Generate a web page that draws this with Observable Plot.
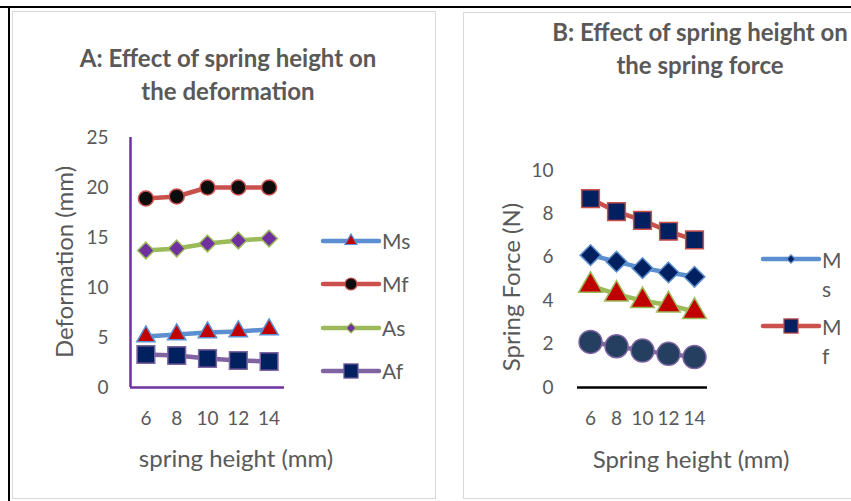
<!DOCTYPE html>
<html><head><meta charset="utf-8">
<script src="https://cdn.jsdelivr.net/npm/d3@7"></script>
<script src="https://cdn.jsdelivr.net/npm/@observablehq/plot@0.6"></script>
<style>
body{margin:0;background:#fff;}
#page{position:relative;width:851px;height:501px;overflow:hidden;font-family:Lato,"Open Sans",sans-serif;background:#fff;}
.frame{position:absolute;background:#000;}
.panel{position:absolute;border:1px solid #d9d9d9;box-sizing:border-box;}
.title{position:absolute;text-align:center;font-weight:bold;color:#595959;font-size:24px;line-height:33px;white-space:nowrap;}
.axt{position:absolute;color:#595959;font-size:24px;white-space:nowrap;}
.chart svg{position:absolute;left:0;top:0;}
.leg{position:absolute;color:#595959;font-size:21px;}
</style></head><body>
<div id="page">
  <div class="frame" style="left:0;top:6px;width:851px;height:2px"></div>
  <div class="frame" style="left:8px;top:6px;width:2px;height:501px"></div>
  <div class="panel" style="left:12px;top:11px;width:424px;height:488px"></div>
  <div class="panel" style="left:463px;top:12px;width:400px;height:487px"></div>
  <div class="title" style="left:28px;width:400px;top:41px">A: Effect of spring height on<br>the deformation</div>
  <div class="title" style="left:500px;width:400px;top:15px">B: Effect of spring height on<br>the spring force</div>
  <div class="axt" style="left:63px;top:262px;transform:translate(-50%,-50%) rotate(-90deg)">Deformation (mm)</div>
  <div class="axt" style="left:510px;top:287px;transform:translate(-50%,-50%) rotate(-90deg)">Spring Force (N)</div>
  <div class="axt" style="left:236px;top:457px;transform:translate(-50%,-50%)">spring height (mm)</div>
  <div class="axt" style="left:691px;top:458px;transform:translate(-50%,-50%)">Spring height (mm)</div>
  <div class="chart" id="chartA"></div>
  <div class="chart" id="chartB"></div>
  <div id="legA"></div>
  <div id="legB"></div>
</div>
<script>
// ---- data ----
const heights = [6, 8, 10, 12, 14];
const seriesNames = ["Ms", "Mf", "As", "Af"];
// A: deformation (mm)
const defMs = [5.1, 5.3, 5.5, 5.6, 5.8];
const defMf = [18.9, 19.1, 20.0, 20.0, 20.0];
const defAs = [13.7, 13.9, 14.4, 14.7, 14.9];
const defAf = [3.3, 3.2, 2.9, 2.7, 2.6];
// B: spring force (N)
const forceMs = [6.1, 5.8, 5.5, 5.3, 5.1];
const forceMf = [8.7, 8.1, 7.7, 7.2, 6.8];
const forceAs = [4.7, 4.3, 4.0, 3.8, 3.5];
const forceAf = [2.1, 1.9, 1.7, 1.55, 1.4];
const ticksA = [0, 5, 10, 15, 20, 25];
const ticksB = [0, 2, 4, 6, 8, 10];
const legendA = ["Ms", "Mf", "As", "Af"];
const legendB = ["Ms", "Mf"];

// ---- styles ----
const styleA = {
  Ms: {line: "#5b8fd0", fill: "#c00000", edge: "#5b8fd0", symbol: "triangle", r: 6.8, lr: 4.5},
  Mf: {line: "#c9504d", fill: "#0d0d0d", edge: "#c9504d", symbol: "circle", r: 7.5, lr: 6},
  As: {line: "#9bbb59", fill: "#7030a0", edge: "#9bbb59", symbol: "diamond2", r: 7.5, lr: 4.5},
  Af: {line: "#8064a2", fill: "#002060", edge: "#8064a2", symbol: "square", r: 10, lr: 8}
};
const styleB = {
  Ms: {line: "#5b8fd0", fill: "#002060", edge: "#5b8fd0", symbol: "diamond2", r: 9.3, lr: 3.8},
  Mf: {line: "#c9504d", fill: "#002060", edge: "#c9504d", symbol: "square", r: 10, lr: 8},
  As: {line: "#9bbb59", fill: "#c00000", edge: "#9bbb59", symbol: "triangle", r: 8.8, lr: 6},
  Af: {line: "#8064a2", fill: "#243f60", edge: "#8064a2", symbol: "circle", r: 11.5, lr: 6}
};

function rows(arrs) {
  const out = [];
  seriesNames.forEach((s, i) => heights.forEach((h, j) => out.push({series: s, h, v: arrs[i][j]})));
  return out;
}
const dataA = rows([defMs, defMf, defAs, defAf]);
const dataB = rows([forceMs, forceMf, forceAs, forceAf]);

function makeChart(data, styles, opt) {
  const marks = [];
  marks.push(...opt.axisMarks);
  for (const s of seriesNames) {
    const st = styles[s];
    const d = data.filter(r => r.series === s);
    marks.push(Plot.line(d, {x: "h", y: "v", stroke: st.line, strokeWidth: 4.5, strokeLinecap: "round", strokeLinejoin: "round"}));
  }
  for (const s of seriesNames) {
    const st = styles[s];
    const d = data.filter(r => r.series === s);
    marks.push(Plot.dot(d, {x: "h", y: "v", symbol: st.symbol, r: st.r, fill: st.fill, stroke: st.edge, strokeWidth: 1.5}));
  }
  return Plot.plot({
    width: 851, height: 501,
    marginLeft: opt.left, marginRight: 851 - opt.right,
    marginTop: opt.top, marginBottom: 501 - opt.bottom,
    style: {background: "transparent", color: "#595959", fontFamily: "Lato, sans-serif", fontSize: opt.fontSize + "px", overflow: "visible"},
    x: {type: "linear", domain: [5, 15], ticks: heights, tickSize: 0, tickPadding: opt.xPad, label: null, tickFormat: d => String(d)},
    y: {domain: opt.ydomain, ticks: opt.yticks, tickSize: 0, tickPadding: opt.yPad, label: null, tickFormat: d => String(d)},
    marks
  });
}

const A = makeChart(dataA, styleA, {
  left: 130, right: 284, top: 137, bottom: 387, ydomain: [0, 25], yticks: ticksA, xPad: 24, yPad: 22, fontSize: 19,
  axisMarks: [Plot.ruleX([5], {stroke: "#7030a0", strokeWidth: 2.5, y1: 0, y2: 25}), Plot.ruleY([0], {stroke: "#7030a0", strokeWidth: 2.5, x1: 5, x2: 15})]
});
document.getElementById("chartA").appendChild(A);

const B = makeChart(dataB, styleB, {
  left: 577, right: 707, top: 170, bottom: 387, ydomain: [0, 10], yticks: ticksB, xPad: 24, yPad: 24, fontSize: 19,
  axisMarks: [Plot.ruleY([0], {stroke: "#000", strokeWidth: 2.5, x1: 5, x2: 15})]
});
document.getElementById("chartB").appendChild(B);

// ---- legends ----
const symMap = {circle: d3.symbolCircle, triangle: d3.symbolTriangle, square: d3.symbolSquare, diamond2: d3.symbolDiamond2};
function legend(host, names, styles, cfg) {
  names.forEach((n, i) => {
    const st = styles[n];
    const y = cfg.y0 + i * cfg.dy;
    const div = document.createElement("div");
    div.className = "leg";
    div.style.left = cfg.x + "px";
    div.style.top = (y - 15) + "px";
    const w = cfg.len;
    const svg = d3.create("svg").attr("width", w + 6).attr("height", 30).style("position", "absolute").style("left", "0px").style("top", "0px");
    svg.append("line").attr("x1", 3).attr("x2", w + 3).attr("y1", 15).attr("y2", 15).attr("stroke", st.line).attr("stroke-width", 4.5).attr("stroke-linecap", "round");
    svg.append("path").attr("transform", `translate(${w / 2 + 3},15)`)
      .attr("d", d3.symbol(symMap[st.symbol], Math.PI * st.lr * st.lr)())
      .attr("fill", st.fill).attr("stroke", st.edge).attr("stroke-width", 1.2);
    div.appendChild(svg.node());
    const t = document.createElement("div");
    t.style.position = "absolute";
    t.style.left = (w + 6) + "px";
    t.style.top = cfg.ty + "px";
    t.style.lineHeight = cfg.lh + "px";
    t.style.width = cfg.tw + "px";
    t.style.wordBreak = "break-all";
    t.textContent = n;
    div.appendChild(t);
    host.appendChild(div);
  });
}
legend(document.getElementById("legA"), legendA, styleA, {x: 320, y0: 241, dy: 43.3, len: 56, lh: 30, ty: 0, tw: 60});
legend(document.getElementById("legB"), legendB, styleB, {x: 760, y0: 259, dy: 67, len: 56, lh: 29, ty: 1, tw: 20});
</script>
</body></html>
